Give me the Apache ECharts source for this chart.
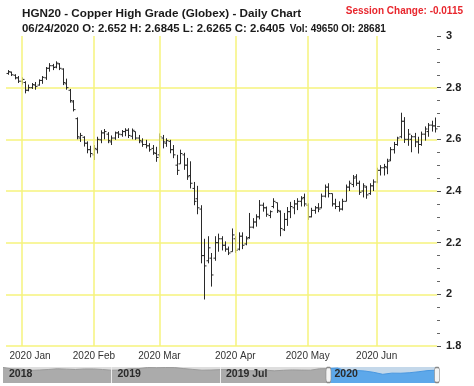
<!DOCTYPE html>
<html><head><meta charset="utf-8">
<script src="https://cdn.jsdelivr.net/npm/echarts/dist/echarts.min.js"></script>
<style>html,body{margin:0;padding:0;background:#fff}#c{width:474px;height:386px}</style>
</head><body><div id="c"></div>
<script>
var dates = ['2019-12-26','2019-12-27','2019-12-30','2019-12-31',
'2020-01-02','2020-01-03','2020-01-06','2020-01-07','2020-01-08','2020-01-09','2020-01-10','2020-01-13','2020-01-14','2020-01-15','2020-01-16','2020-01-17','2020-01-21','2020-01-22','2020-01-23','2020-01-24','2020-01-27','2020-01-28','2020-01-29','2020-01-30','2020-01-31',
'2020-02-03','2020-02-04','2020-02-05','2020-02-06','2020-02-07','2020-02-10','2020-02-11','2020-02-12','2020-02-13','2020-02-14','2020-02-18','2020-02-19','2020-02-20','2020-02-21','2020-02-24','2020-02-25','2020-02-26','2020-02-27','2020-02-28',
'2020-03-02','2020-03-03','2020-03-04','2020-03-05','2020-03-06','2020-03-09','2020-03-10','2020-03-11','2020-03-12','2020-03-13','2020-03-16','2020-03-17','2020-03-18','2020-03-19','2020-03-20','2020-03-23','2020-03-24','2020-03-25','2020-03-26','2020-03-27','2020-03-30','2020-03-31',
'2020-04-01','2020-04-02','2020-04-03','2020-04-06','2020-04-07','2020-04-08','2020-04-09','2020-04-13','2020-04-14','2020-04-15','2020-04-16','2020-04-17','2020-04-20','2020-04-21','2020-04-22','2020-04-23','2020-04-24','2020-04-27','2020-04-28','2020-04-29','2020-04-30',
'2020-05-01','2020-05-04','2020-05-05','2020-05-06','2020-05-07','2020-05-08','2020-05-11','2020-05-12','2020-05-13','2020-05-14','2020-05-15','2020-05-18','2020-05-19','2020-05-20','2020-05-21','2020-05-22','2020-05-26','2020-05-27','2020-05-28','2020-05-29',
'2020-06-01','2020-06-02','2020-06-03','2020-06-04','2020-06-05','2020-06-08','2020-06-09','2020-06-10','2020-06-11','2020-06-12','2020-06-15','2020-06-16','2020-06-17','2020-06-18','2020-06-19','2020-06-22','2020-06-23','2020-06-24'];

var opens = [2.855,2.860,2.848,2.838,
2.825,2.820,2.790,2.800,2.810,2.810,2.828,2.838,2.875,2.885,2.880,2.892,2.872,2.815,2.790,2.745,2.680,2.605,2.608,2.585,2.560,
2.540,2.560,2.598,2.625,2.620,2.590,2.605,2.625,2.618,2.630,2.635,2.612,2.630,2.605,2.590,2.580,2.575,2.565,2.545,
2.540,2.605,2.585,2.592,2.560,2.500,2.505,2.540,2.500,2.460,2.410,2.370,2.330,2.150,2.130,2.140,2.140,2.200,2.215,2.190,2.175,2.165,
2.215,2.175,2.225,2.195,2.220,2.260,2.280,2.300,2.345,2.335,2.305,2.340,2.355,2.320,2.250,2.290,2.320,2.335,2.350,2.360,2.375,
2.345,2.300,2.325,2.335,2.335,2.380,2.415,2.390,2.350,2.340,2.330,2.360,2.415,2.425,2.455,2.430,2.400,2.415,2.390,2.420,
2.435,2.480,2.490,2.490,2.520,2.560,2.580,2.610,2.670,2.600,2.600,2.610,2.590,2.580,2.620,2.630,2.655,2.652];

var highs = [2.868,2.862,2.852,2.845,
2.840,2.825,2.812,2.818,2.822,2.832,2.845,2.880,2.895,2.892,2.902,2.895,2.875,2.835,2.795,2.752,2.685,2.625,2.612,2.592,2.575,
2.578,2.610,2.635,2.640,2.628,2.615,2.630,2.632,2.636,2.643,2.643,2.642,2.630,2.617,2.604,2.598,2.585,2.578,2.571,
2.623,2.617,2.604,2.598,2.578,2.540,2.560,2.548,2.528,2.515,2.435,2.420,2.345,2.215,2.225,2.160,2.225,2.235,2.225,2.205,2.185,2.255,
2.225,2.240,2.240,2.225,2.315,2.295,2.310,2.365,2.355,2.340,2.325,2.372,2.355,2.325,2.315,2.338,2.358,2.365,2.372,2.380,2.390,
2.352,2.335,2.342,2.353,2.390,2.425,2.430,2.390,2.370,2.360,2.370,2.425,2.440,2.462,2.465,2.440,2.430,2.420,2.430,2.445,
2.490,2.500,2.505,2.525,2.570,2.590,2.610,2.703,2.686,2.640,2.617,2.625,2.610,2.630,2.650,2.663,2.672,2.6845];

var lows = [2.850,2.845,2.832,2.818,
2.812,2.778,2.786,2.795,2.792,2.808,2.815,2.830,2.862,2.868,2.875,2.868,2.810,2.792,2.742,2.708,2.600,2.590,2.572,2.546,2.530,
2.520,2.545,2.585,2.600,2.585,2.578,2.598,2.605,2.610,2.612,2.605,2.600,2.598,2.585,2.571,2.565,2.552,2.540,2.513,
2.533,2.565,2.571,2.546,2.527,2.462,2.505,2.482,2.443,2.410,2.345,2.310,2.120,1.980,2.120,2.030,2.130,2.165,2.170,2.165,2.152,2.165,
2.160,2.170,2.175,2.190,2.215,2.255,2.262,2.290,2.320,2.300,2.295,2.333,2.315,2.225,2.245,2.265,2.295,2.310,2.326,2.340,2.340,
2.288,2.298,2.312,2.318,2.333,2.375,2.375,2.340,2.330,2.320,2.325,2.360,2.400,2.415,2.420,2.385,2.375,2.370,2.385,2.400,
2.430,2.460,2.460,2.465,2.515,2.545,2.575,2.604,2.586,2.575,2.550,2.570,2.545,2.575,2.595,2.610,2.630,2.6265];

var closes = [2.862,2.850,2.838,2.825,
2.832,2.790,2.800,2.812,2.805,2.828,2.840,2.875,2.885,2.878,2.895,2.875,2.820,2.800,2.750,2.715,2.610,2.615,2.585,2.560,2.545,
2.565,2.600,2.625,2.630,2.595,2.605,2.625,2.620,2.630,2.635,2.615,2.635,2.605,2.595,2.580,2.575,2.560,2.548,2.530,
2.610,2.590,2.595,2.560,2.540,2.480,2.545,2.500,2.455,2.430,2.360,2.335,2.150,2.110,2.180,2.075,2.200,2.215,2.190,2.175,2.160,2.230,
2.170,2.225,2.190,2.215,2.260,2.280,2.300,2.345,2.335,2.310,2.320,2.360,2.325,2.255,2.290,2.320,2.340,2.350,2.360,2.370,2.350,
2.300,2.325,2.335,2.330,2.380,2.415,2.390,2.350,2.340,2.330,2.360,2.415,2.430,2.450,2.430,2.395,2.420,2.385,2.420,2.435,
2.480,2.490,2.495,2.515,2.560,2.580,2.605,2.670,2.600,2.620,2.610,2.590,2.580,2.620,2.640,2.655,2.652,2.6405];

var monthLabels = {'2020-01-02':'2020 Jan','2020-02-03':'2020 Feb','2020-03-02':'2020 Mar','2020-04-01':'2020 Apr','2020-05-01':'2020 May','2020-06-01':'2020 Jun'};
var yMin = 1.8, yMax = 3, yStep = 0.2;

// navigator (overview strip)
var navDates = ['2018-07-01','2018-07-16','2018-08-01','2018-08-16','2018-09-01','2018-09-16','2018-10-01','2018-10-16','2018-11-01','2018-11-16','2018-12-01','2018-12-16',
'2019-01-01','2019-01-16','2019-02-01','2019-02-16','2019-03-01','2019-03-16','2019-04-01','2019-04-16','2019-05-01','2019-05-16','2019-06-01','2019-06-16',
'2019-07-01','2019-07-16','2019-08-01','2019-08-16','2019-09-01','2019-09-16','2019-10-01','2019-10-16','2019-11-01','2019-11-16','2019-12-01','2019-12-16',
'2020-01-01','2020-01-16','2020-02-01','2020-02-16','2020-03-01','2020-03-16','2020-04-01','2020-04-16','2020-05-01','2020-05-16','2020-06-01','2020-06-16','2020-06-24'];
var navValues = [2.95,2.78,2.77,2.62,2.66,2.72,2.80,2.76,2.72,2.78,2.78,2.72,
2.64,2.66,2.80,2.82,2.94,2.92,2.94,2.93,2.82,2.73,2.64,2.66,
2.70,2.72,2.63,2.58,2.57,2.65,2.57,2.63,2.67,2.65,2.64,2.80,
2.82,2.88,2.53,2.62,2.55,2.40,2.18,2.31,2.30,2.36,2.47,2.60,2.64];
var navSections = {'2018-07-01':'2018','2019-01-01':'2019','2019-07-01':'2019 Jul','2020-01-01':'2020'};
var navSelStart = '2020-01-01', navSelEnd = '2020-06-24';

var chart = echarts.init(document.getElementById('c'), null, {renderer:'canvas'});
var ohlc = dates.map(function(d,i){ return [i, opens[i], closes[i], lows[i], highs[i]]; });
var selStartIdx = navDates.indexOf(navSelStart);
var navGray = navValues.map(function(v,i){ return i <= selStartIdx ? v : null; });
var navBlue = navValues.map(function(v,i){ return i >= selStartIdx ? v : null; });
var gridColor = '#f6f37c';
var fontF = '"Liberation Sans", Arial, sans-serif';

chart.setOption({
  animation: false,
  backgroundColor: '#fff',
  title: [{
    left: 17, top: 2,
    text: '{t|HGN20 - Copper High Grade (Globex) - Daily Chart}\n{s|06/24/2020 O: 2.652 H: 2.6845 L: 2.6265 C: 2.6405} {v|Vol: 49650 OI: 28681}',
    textStyle: { rich: {
      t: {fontFamily: fontF, fontWeight: 'bold', fontSize: 11.7, color: '#1a1a1a', lineHeight: 13},
      s: {fontFamily: fontF, fontWeight: 'bold', fontSize: 11.4, color: '#1a1a1a', lineHeight: 12},
      v: {fontFamily: fontF, fontWeight: 'bold', fontSize: 10, color: '#1a1a1a', lineHeight: 12}
    }}
  },{
    right: 6, top: 1,
    text: 'Session Change: -0.0115',
    textStyle: {fontFamily: fontF, fontWeight: 'bold', fontSize: 10, color: '#e8262d'}
  }],
  grid: [
    {left: 6, right: 37, top: 36, bottom: 40},
    {left: 3, right: 37, top: 367, height: 16, show: true, backgroundColor: '#dedede', borderWidth: 0}
  ],
  xAxis: [{
    type: 'category', gridIndex: 0, data: dates, boundaryGap: true,
    axisLine: {show: false}, axisTick: {show: false}, splitLine: {show: false},
    axisLabel: {
      interval: function(i, v){ return monthLabels[v] !== undefined; },
      formatter: function(v){ return v === '2020-01-02' ? '{j|' + monthLabels[v] + '}' : monthLabels[v]; },
      fontFamily: fontF, fontSize: 10, color: '#333', margin: 5,
      rich: {j: {fontFamily: fontF, fontSize: 10, color: '#333', padding: [0,0,0,17]}}
    }
  },{
    type: 'category', gridIndex: 1, data: navDates, boundaryGap: false, z: 10,
    axisLine: {show: false}, axisTick: {show: false},
    splitLine: {show: true, interval: function(i, v){ return navSections[v] !== undefined && i > 0; }, lineStyle: {color: '#ececec', width: 1}},
    axisLabel: {
      inside: true, margin: 3,
      interval: function(i, v){ return navSections[v] !== undefined; },
      formatter: function(v){ return navSections[v]; },
      align: 'left', verticalAlign: 'bottom', padding: [0,0,0,6],
      fontFamily: fontF, fontWeight: 'bold', fontSize: 10.5, color: '#2b2b2b'
    }
  }],
  yAxis: [{
    type: 'value', gridIndex: 0, position: 'right', min: yMin, max: yMax, interval: yStep,
    axisLine: {show: false},
    axisTick: {show: true, length: 4, lineStyle: {color: '#555'}},
    minorTick: {show: true, splitNumber: 4, length: 3, lineStyle: {color: '#666'}},
    splitLine: {show: true, showMaxLine: false, lineStyle: {color: gridColor, width: 1.5}},
    axisLabel: {margin: 9, fontFamily: fontF, fontWeight: 'bold', fontSize: 11, color: '#222'}
  },{
    type: 'value', gridIndex: 1, min: 1.2, max: 3.0, show: false
  }],
  series: [{
    type: 'custom', xAxisIndex: 0, yAxisIndex: 0, data: ohlc,
    encode: {x: 0, y: [1,2,3,4]},
    renderItem: function(params, api){
      var idx = api.value(0);
      var pO = api.coord([idx, api.value(1)]);
      var pC = api.coord([idx, api.value(2)]);
      var pL = api.coord([idx, api.value(3)]);
      var pH = api.coord([idx, api.value(4)]);
      var x = Math.round(pO[0]) + 0.5;
      var st = {stroke: '#2a2a2a', lineWidth: 1};
      return {type: 'group', children: [
        {type: 'line', shape: {x1: x, y1: pH[1], x2: x, y2: pL[1]}, style: st},
        {type: 'line', shape: {x1: x - 2, y1: pO[1], x2: x, y2: pO[1]}, style: st},
        {type: 'line', shape: {x1: x, y1: pC[1], x2: x + 2, y2: pC[1]}, style: st}
      ]};
    }
  },{
    type: 'line', xAxisIndex: 0, yAxisIndex: 0, data: [], silent: true,
    markLine: {
      silent: true, symbol: ['none','none'], label: {show: false},
      lineStyle: {color: gridColor, width: 1.5, type: 'solid'},
      data: Object.keys(monthLabels).map(function(d){ return {xAxis: d}; })
    }
  },{
    type: 'line', xAxisIndex: 1, yAxisIndex: 1, data: navGray, symbol: 'none', silent: true, z: 1,
    lineStyle: {width: 1, color: '#9a9a9a'}, areaStyle: {color: '#ababab', opacity: 1}
  },{
    type: 'line', xAxisIndex: 1, yAxisIndex: 1, data: navBlue, symbol: 'none', silent: true, z: 1,
    lineStyle: {width: 1, color: '#4a98e0'}, areaStyle: {color: '#5da8ea', opacity: 1},
    markArea: {silent: true, itemStyle: {color: 'rgba(170,210,245,0.5)'}, data: [[{xAxis: navSelStart}, {xAxis: navSelEnd}]]},
    markPoint: {
      silent: true, symbol: 'roundRect', symbolSize: [5, 15], z: 20,
      itemStyle: {color: '#f4f4f4', borderColor: '#888', borderWidth: 1},
      label: {show: false},
      data: [{coord: [navSelStart, 2.1]}, {coord: [navSelEnd, 2.1]}]
    }
  }]
});
</script></body></html>
